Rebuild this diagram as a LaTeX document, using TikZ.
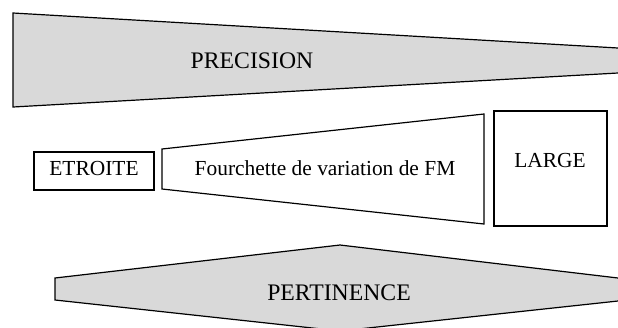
\documentclass[tikz,border=0pt]{standalone}
\usepackage{fontspec}
\setmainfont{Liberation Serif}
\usepackage{xcolor}
\definecolor{bandgray}{gray}{0.85}

\begin{document}
\begin{tikzpicture}[
  x=1bp, y=-1bp,
  every node/.style = {font=\fontsize{21.5}{24}\selectfont, inner sep=0pt},
  bandtext/.style = {font=\fontsize{23.8}{26}\selectfont},
  band/.style = {fill=bandgray, draw=black, line width=1.2bp},
  box/.style = {draw=black, fill=white, line width=1.2bp}
]
  \useasboundingbox (0,0) rectangle (618,327);
  \clip (0,0) rectangle (618,327);

  % upper band
  \filldraw[band] (618,48) -- (13,13) -- (13,107) -- (618,73);
  \node[bandtext] (precision) at (252,61) {PRECISION};

  % middle row
  \draw[box] (34,152) rectangle (154,190);
  \node (etroite) at (94,169) {ETROITE};
  \draw[box] (162,149) -- (484,114) -- (484,224) -- (162,189) -- cycle;
  \node (fourchette) at (325,168) {Fourchette de variation de FM};
  \draw[box] (494,111) rectangle (607,226);
  \node (large) at (550,161) {LARGE};

  % lower band
  \filldraw[band] (618,278) -- (340,245) -- (55,278) -- (55,300) -- (340,331) -- (618,301);
  \node[bandtext] (pertinence) at (339,293) {PERTINENCE};
\end{tikzpicture}
\end{document}
